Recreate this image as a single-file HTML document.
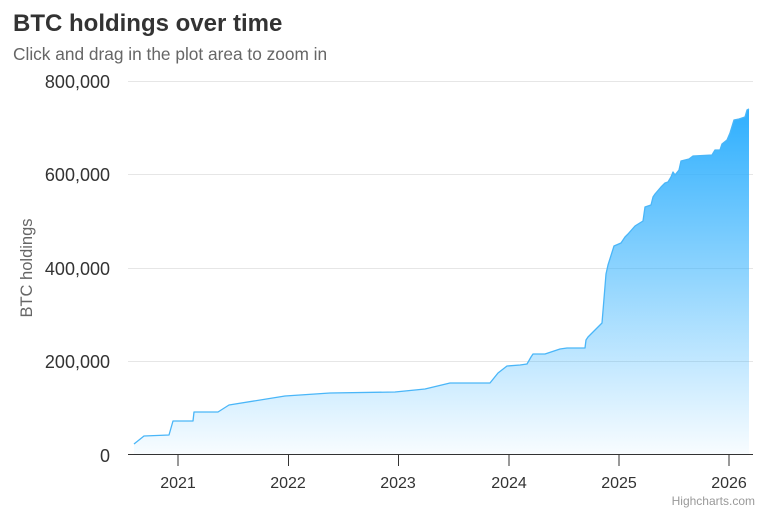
<!DOCTYPE html>
<html><head><style>body{margin:0;background:#fff}</style></head><body>
<svg width="768" height="512" xmlns="http://www.w3.org/2000/svg" font-family="Liberation Sans, sans-serif">
<defs><linearGradient id="g" x1="0" y1="109" x2="0" y2="455" gradientUnits="userSpaceOnUse">
<stop offset="0" stop-color="#2eaffe"/><stop offset="1" stop-color="#2eaffe" stop-opacity="0.03"/></linearGradient></defs>
<text x="13" y="31" font-size="24" font-weight="bold" fill="#333">BTC holdings over time</text>
<text x="13" y="60" font-size="17.3" fill="#666">Click and drag in the plot area to zoom in</text>
<g stroke="#e6e6e6" stroke-width="1">
<line x1="128" x2="753" y1="81.5" y2="81.5"/><line x1="128" x2="753" y1="174.5" y2="174.5"/><line x1="128" x2="753" y1="268.5" y2="268.5"/><line x1="128" x2="753" y1="361.5" y2="361.5"/></g>
<g font-size="18" fill="#333" text-anchor="end">
<text x="110" y="88">800,000</text><text x="110" y="181">600,000</text><text x="110" y="275">400,000</text><text x="110" y="368">200,000</text><text x="110" y="462">0</text></g>
<text transform="translate(32,268) rotate(-90)" font-size="16.5" fill="#666" text-anchor="middle">BTC holdings</text>
<path fill="url(#g)" stroke="none" d="M134,444 L144,436 169,435 173,421 193,421 194,412 218,412 229,405 285,396 330,393 395,392 425,389 450,383 490,383 498,373 507,366 520,365 527,364 531,357 533,354 545,354 560,349 567,348 585,348 586,340 588,337 602,323 606,274 608,265 614,246 621,243 625,237 628,234 635,226 643,221 645,207 651,205 653,197 655,194 661,187 665,183 668,182 671,177 673,172 675,175 679,170 681,161 689,159 693,156 712,155 715,150 720,150 722,144 727,140 730,133 734,120 739,119 745,117 747,110 749,109 L749,454 L134,454 Z"/>
<path fill="none" stroke="#4ab6f8" stroke-width="1.3" stroke-linejoin="round" d="M134,444 L144,436 169,435 173,421 193,421 194,412 218,412 229,405 285,396 330,393 395,392 425,389 450,383 490,383 498,373 507,366 520,365 527,364 531,357 533,354 545,354 560,349 567,348 585,348 586,340 588,337 602,323 606,274 608,265 614,246 621,243 625,237 628,234 635,226 643,221 645,207 651,205 653,197 655,194 661,187 665,183 668,182 671,177 673,172 675,175 679,170 681,161 689,159 693,156 712,155 715,150 720,150 722,144 727,140 730,133 734,120 739,119 745,117 747,110 749,109"/>
<line x1="128" x2="753" y1="454.5" y2="454.5" stroke="#333" stroke-width="1"/>
<g stroke="#333"><line x1="178" x2="178" y1="455" y2="466"/><line x1="288.5" x2="288.5" y1="455" y2="466"/><line x1="398.5" x2="398.5" y1="455" y2="466"/><line x1="509" x2="509" y1="455" y2="466"/><line x1="619" x2="619" y1="455" y2="466"/><line x1="729" x2="729" y1="455" y2="466"/></g>
<g font-size="16" fill="#333" text-anchor="middle">
<text x="178" y="488">2021</text><text x="288" y="488">2022</text><text x="398" y="488">2023</text><text x="509" y="488">2024</text><text x="619" y="488">2025</text><text x="729" y="488">2026</text></g>
<text x="755" y="505" font-size="12" fill="#999" text-anchor="end">Highcharts.com</text>
</svg>
</body></html>
